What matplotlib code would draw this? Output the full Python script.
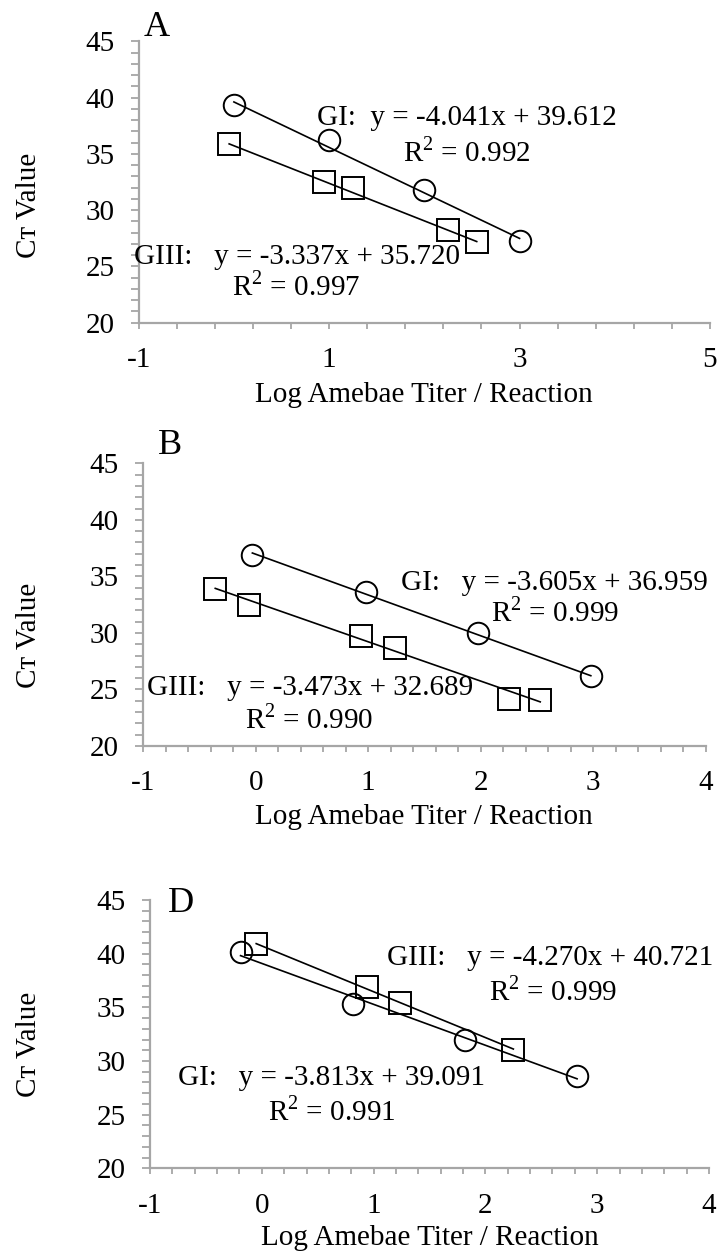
import matplotlib
matplotlib.use("Agg")
import matplotlib.pyplot as plt
import numpy as np

plt.rcParams['font.family'] = ['Liberation Serif', 'DejaVu Serif']
plt.rcParams['mathtext.fontset'] = 'custom'
plt.rcParams['mathtext.rm'] = 'Liberation Serif'

# ---------------- data ----------------
A_GI_x = [0.0, 1.0, 2.0, 3.0]
A_GI_y = [39.3, 36.2, 31.8, 27.3]
A_GIII_x = [-0.05, 0.95, 1.25, 2.25, 2.55]
A_GIII_y = [35.9, 32.5, 32.0, 28.2, 27.2]
A_fit = {"GI": (-4.041, 39.612), "GIII": (-3.337, 35.720)}
A_r2 = {"GI": "0.992", "GIII": "0.997"}

B_GI_x = [-0.03, 0.98, 1.98, 2.98]
B_GI_y = [36.9, 33.6, 30.0, 26.2]
B_GIII_x = [-0.36, -0.06, 0.94, 1.24, 2.25, 2.53]
B_GIII_y = [33.9, 32.5, 29.7, 28.7, 24.2, 24.1]
B_fit = {"GI": (-3.605, 36.959), "GIII": (-3.473, 32.689)}
B_r2 = {"GI": "0.999", "GIII": "0.990"}

D_GI_x = [-0.19, 0.82, 1.82, 2.82]
D_GI_y = [40.2, 35.3, 32.0, 28.6]
D_GIII_x = [-0.05, 0.94, 1.24, 2.25]
D_GIII_y = [40.9, 36.9, 35.4, 31.0]
D_fit = {"GI": (-3.813, 39.091), "GIII": (-4.270, 40.721)}
D_r2 = {"GI": "0.991", "GIII": "0.999"}

panel_letters = ["A", "B", "D"]
xlabel = "Log Amebae Titer / Reaction"
ylabel = "C\u1d1b Value"

W, H = 723, 1257
fig = plt.figure(figsize=(W / 100, H / 100), dpi=100)

def fx(px):
    return px / W

def fy(py):
    return 1 - py / H

FS = 21
GRAY = '#A6A6A6'

def make_axes(left, right, top, bottom, xlim, xmajor, xminor):
    ax = fig.add_axes([fx(left), fy(bottom), fx(right - left), (bottom - top) / H])
    ax.set_xlim(*xlim)
    ax.set_ylim(20, 45)
    for s in ['top', 'right']:
        ax.spines[s].set_visible(False)
    for s in ['left', 'bottom']:
        ax.spines[s].set_color(GRAY)
        ax.spines[s].set_linewidth(1.6)
    ax.set_xticks(np.arange(xlim[0], xlim[1] + 1e-9, xmajor))
    ax.set_xticks(np.arange(xlim[0], xlim[1] + 1e-9, xminor), minor=True)
    ax.set_yticks(np.arange(20, 46, 5))
    ax.set_yticks(np.arange(20, 46, 1), minor=True)
    ax.set_xticklabels([f"{int(v)}" for v in np.arange(xlim[0], xlim[1] + 1e-9, xmajor)])
    ax.tick_params(axis='x', which='both', direction='out', length=4.5, width=1.3,
                   color=GRAY, labelsize=FS, pad=13)
    ax.tick_params(axis='y', which='both', direction='out', length=5.5, width=1.3,
                   color=GRAY, labelsize=FS, pad=12)
    for lab in ax.get_xticklabels() + ax.get_yticklabels():
        lab.set_clip_on(False)
    ax.patch.set_alpha(0)
    return ax

def draw_series(ax, xs, ys, fit, marker):
    ax.plot(xs, ys, linestyle='none', marker=marker, markersize=15.5,
            markerfacecolor='none', markeredgecolor='black', markeredgewidth=1.4,
            clip_on=False, zorder=3)
    xx = np.array([min(xs), max(xs)])
    ax.plot(xx, fit[0] * xx + fit[1], color='black', linewidth=1.2, zorder=2)

def eq_text(name, fit):
    return f"{name}:  y = {fit[0]:.3f}x + {fit[1]:.3f}"

# ---------- Panel A ----------
axA = make_axes(138.7, 710, 41.3, 322.7, (-1, 5), 2, 0.4)
draw_series(axA, A_GI_x, A_GI_y, A_fit["GI"], 'o')
draw_series(axA, A_GIII_x, A_GIII_y, A_fit["GIII"], 's')
fig.text(fx(317), fy(118), eq_text("GI", A_fit["GI"]), fontsize=FS, ha='left', va='center')
fig.text(fx(403), fy(152), r"R$^\mathregular{2}$ = " + A_r2["GI"], fontsize=FS, ha='left', va='center')
fig.text(fx(134), fy(257), eq_text("GIII", A_fit["GIII"]).replace(":  ", ":   "), fontsize=FS, ha='left', va='center')
fig.text(fx(232), fy(286), r"R$^\mathregular{2}$ = " + A_r2["GIII"], fontsize=FS, ha='left', va='center')
fig.text(fx(157), fy(27), panel_letters[0], fontsize=26, ha='center', va='center')
fig.text(fx(424), fy(395), xlabel, fontsize=FS, ha='center', va='center')
fig.text(fx(29), fy(205), ylabel, fontsize=FS, ha='center', va='center', rotation=90)

# ---------- Panel B ----------
axB = make_axes(143.3, 705.5, 463.3, 746, (-1, 4), 1, 0.2)
draw_series(axB, B_GI_x, B_GI_y, B_fit["GI"], 'o')
draw_series(axB, B_GIII_x, B_GIII_y, B_fit["GIII"], 's')
fig.text(fx(401), fy(583), eq_text("GI", B_fit["GI"]).replace(":  ", ":   "), fontsize=FS, ha='left', va='center')
fig.text(fx(491), fy(612), r"R$^\mathregular{2}$ = " + B_r2["GI"], fontsize=FS, ha='left', va='center')
fig.text(fx(147), fy(688), eq_text("GIII", B_fit["GIII"]).replace(":  ", ":   "), fontsize=FS, ha='left', va='center')
fig.text(fx(245), fy(719), r"R$^\mathregular{2}$ = " + B_r2["GIII"], fontsize=FS, ha='left', va='center')
fig.text(fx(170), fy(446), panel_letters[1], fontsize=26, ha='center', va='center')
fig.text(fx(424), fy(817), xlabel, fontsize=FS, ha='center', va='center')
fig.text(fx(29), fy(635), ylabel, fontsize=FS, ha='center', va='center', rotation=90)

# ---------- Panel D ----------
axD = make_axes(150, 709, 900, 1168.3, (-1, 4), 1, 0.2)
draw_series(axD, D_GI_x, D_GI_y, D_fit["GI"], 'o')
draw_series(axD, D_GIII_x, D_GIII_y, D_fit["GIII"], 's')
fig.text(fx(387), fy(958), eq_text("GIII", D_fit["GIII"]).replace(":  ", ":   "), fontsize=FS, ha='left', va='center')
fig.text(fx(489), fy(991), r"R$^\mathregular{2}$ = " + D_r2["GIII"], fontsize=FS, ha='left', va='center')
fig.text(fx(178), fy(1078), eq_text("GI", D_fit["GI"]).replace(":  ", ":   "), fontsize=FS, ha='left', va='center')
fig.text(fx(268), fy(1111), r"R$^\mathregular{2}$ = " + D_r2["GI"], fontsize=FS, ha='left', va='center')
fig.text(fx(181), fy(903), panel_letters[2], fontsize=26, ha='center', va='center')
fig.text(fx(430), fy(1238), xlabel, fontsize=FS, ha='center', va='center')
fig.text(fx(29), fy(1044), ylabel, fontsize=FS, ha='center', va='center', rotation=90)

fig.savefig("out.png", dpi=100)
